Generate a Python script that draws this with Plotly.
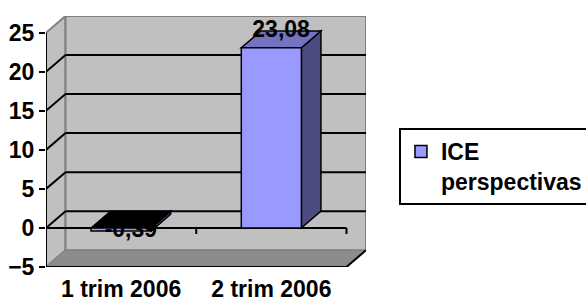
import plotly.graph_objects as go

# ---- data ----
categories = ["1 trim 2006", "2 trim 2006"]
values = [-0.39, 23.08]
value_labels = ["-0,39", "23,08"]
series_name = "ICE<br>perspectivas"
y_ticks = [-5, 0, 5, 10, 15, 20, 25]

# ---- style constants ----
DX = 0.13      # 3D depth in category units
DY = 2.15      # 3D depth in value units
BW = 0.4       # bar width
FONT = "Liberation Sans, Arial, sans-serif"
FS = 23
WALL = "#c0c0c0"
WALL_EDGE = "#808080"
FLOOR = "#8c8c8c"
BAR_FRONT = "#9999ff"
BAR_SIDE = "#4c4c80"
BAR_TOP = "#7373bf"

x_pos = list(range(len(categories)))
xmin, xmax = -0.5, len(categories) - 0.5
ymin, ymax = y_ticks[0], y_ticks[-1]
bounds = [p + 0.5 for p in x_pos]


def poly(pts, fill, line_color="black", width=1.5, layer="below"):
    path = "M " + " L ".join(f"{x},{y}" for x, y in pts) + " Z"
    return dict(type="path", path=path, xref="x", yref="y", fillcolor=fill,
                line=dict(color=line_color, width=width), layer=layer)


def seg(x0, y0, x1, y1, color="black", width=2):
    return dict(type="line", x0=x0, y0=y0, x1=x1, y1=y1, xref="x", yref="y",
                line=dict(color=color, width=width), layer="below")


shapes = []
# side wall
shapes.append(poly([(xmin, ymin), (xmin, ymax), (xmin + DX, ymax + DY), (xmin + DX, ymin + DY)],
                   WALL, WALL_EDGE, 2))
# back wall
shapes.append(dict(type="rect", x0=xmin + DX, x1=xmax + DX, y0=ymin + DY, y1=ymax + DY,
                   xref="x", yref="y", fillcolor=WALL, line=dict(color=WALL_EDGE, width=2),
                   layer="below"))
# floor
shapes.append(poly([(xmin, ymin), (xmax, ymin), (xmax + DX, ymin + DY), (xmin + DX, ymin + DY)],
                   FLOOR, WALL_EDGE, 1))
shapes.append(seg(xmin, ymin, xmax, ymin))
shapes.append(seg(xmax, ymin, xmax + DX, ymin + DY))
# gridlines on back & side walls
for t in y_ticks[1:-1]:
    shapes.append(seg(xmin + DX, t + DY, xmax + DX, t + DY))
    shapes.append(seg(xmin, t, xmin + DX, t + DY))
# category axis at zero
shapes.append(seg(xmin, 0, xmax, 0))
for b in bounds:
    shapes.append(dict(type="line", xref="x", yref="y", ysizemode="pixel", yanchor=0,
                       x0=b, x1=b, y0=0, y1=-6, line=dict(color="black", width=2),
                       layer="below"))
# bottom ticks on the floor edge
for b in bounds:
    shapes.append(dict(type="line", xref="x", yref="y", ysizemode="pixel", yanchor=ymin,
                       x0=b, x1=b, y0=0, y1=-6, line=dict(color="black", width=2),
                       layer="below"))
# value axis line
shapes.append(seg(xmin, ymin, xmin, ymax))

# bar side & top faces
for x, v in zip(x_pos, values):
    top, bot = max(v, 0), min(v, 0)
    r = x + BW / 2
    l = x - BW / 2
    shapes.append(poly([(r, bot), (r, top), (r + DX, top + DY), (r + DX, bot + DY)], BAR_SIDE))
    shapes.append(poly([(l, top), (r, top), (r + DX, top + DY), (l + DX, top + DY)],
                       BAR_TOP if v >= 0 else "black"))

label_x = [x + DX / 2 for x in x_pos]
label_y = [v + DY if v >= 0 else v for v in values]

fig = go.Figure()
fig.add_trace(go.Scatter(x=label_x, y=label_y, mode="text", text=value_labels,
                         textposition="middle center",
                         textfont=dict(family=FONT, size=FS, color="black", weight="bold"),
                         showlegend=False, hoverinfo="skip"))
fig.add_trace(go.Bar(x=x_pos, y=values, width=BW, name=series_name,
                     marker=dict(color=BAR_FRONT, line=dict(color="black", width=1.5))))

fig.update_layout(
    width=586, height=300,
    margin=dict(l=46, r=220, t=16, b=33, autoexpand=False),
    paper_bgcolor="white", plot_bgcolor="white",
    shapes=shapes,
    showlegend=True,
    legend=dict(x=1.103, y=0.554, xanchor="left", yanchor="top",
                bordercolor="black", borderwidth=2, bgcolor="white",
                valign="top", tracegroupgap=0,
                font=dict(family=FONT, size=FS, color="black", weight="bold")),
    xaxis=dict(range=[xmin, xmax + DX], tickmode="array", tickvals=x_pos, ticktext=categories,
               ticks="", automargin=False, ticklabelstandoff=6,
               showgrid=False, zeroline=False, showline=False,
               tickfont=dict(family=FONT, size=FS, color="black", weight="bold")),
    yaxis=dict(range=[ymin, ymax + DY], tickmode="array", tickvals=y_ticks, automargin=False,
               ticks="outside", ticklen=6, tickwidth=2, tickcolor="black",
               showgrid=False, zeroline=False, showline=False,
               tickfont=dict(family=FONT, size=FS, color="black", weight="bold")),
)

fig.write_html(
    "out.html",
    config={"displayModeBar": False},
    post_script="document.body.style.margin='0';document.body.style.overflow='hidden';",
)
